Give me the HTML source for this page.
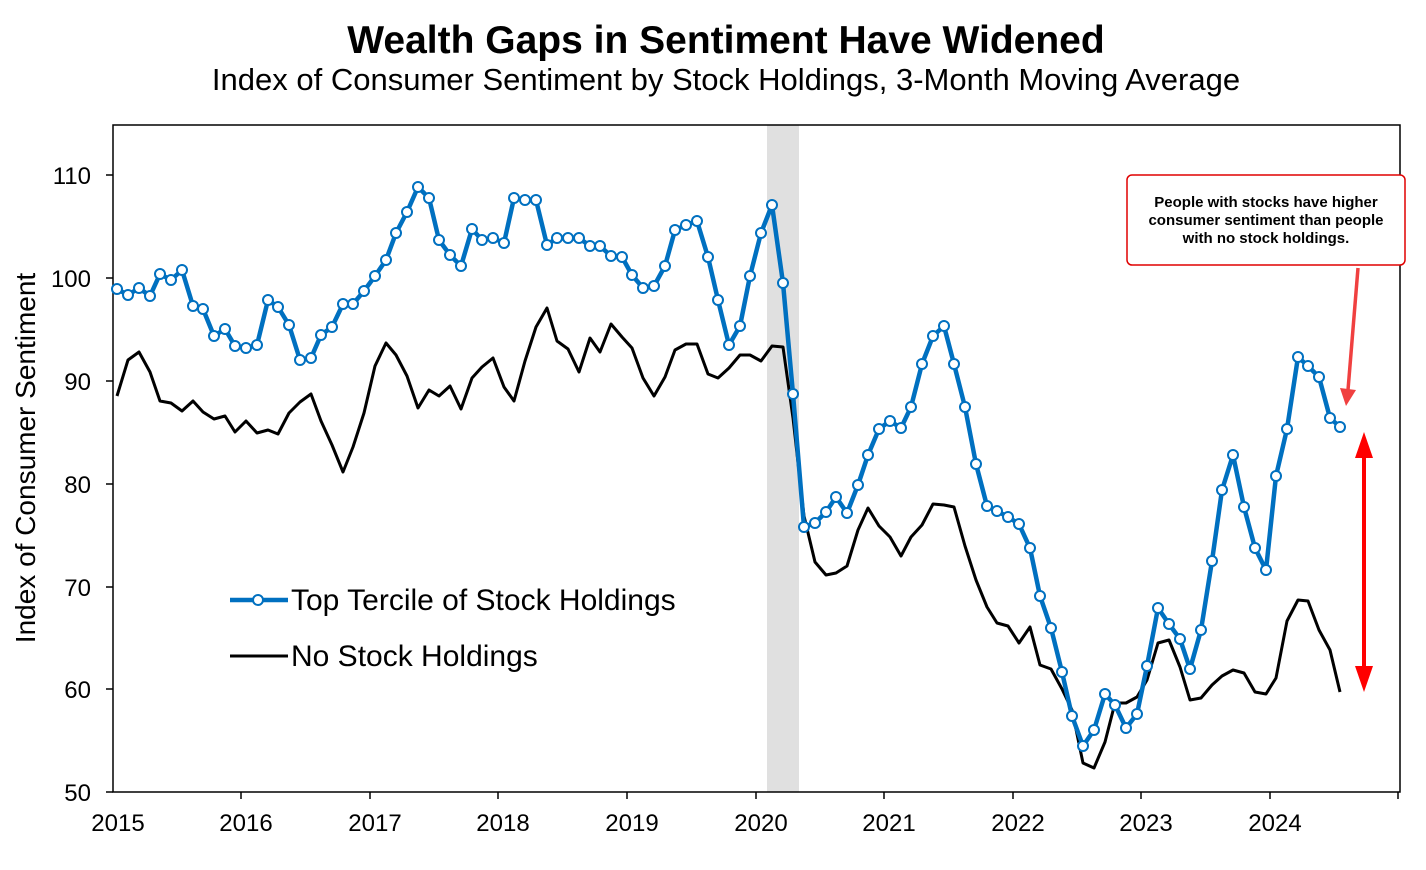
<!DOCTYPE html>
<html><head><meta charset="utf-8"><style>
html,body{margin:0;padding:0;background:#fff;}
svg{display:block;font-family:"Liberation Sans",Arial,sans-serif;}
</style></head><body>
<svg width="1426" height="870" viewBox="0 0 1426 870" xmlns="http://www.w3.org/2000/svg">
<text x="726" y="53" text-anchor="middle" font-size="39" font-weight="bold">Wealth Gaps in Sentiment Have Widened</text>
<text x="726" y="90" text-anchor="middle" font-size="31">Index of Consumer Sentiment by Stock Holdings, 3-Month Moving Average</text>
<rect x="767" y="125" width="32" height="667" fill="#e0e0e0"/>
<rect x="113" y="125" width="1287" height="667" fill="none" stroke="#000" stroke-width="1.5"/>
<g stroke="#000" stroke-width="1.5">
<line x1="106" y1="175" x2="113" y2="175"/><line x1="106" y1="278" x2="113" y2="278"/><line x1="106" y1="381" x2="113" y2="381"/><line x1="106" y1="484" x2="113" y2="484"/><line x1="106" y1="587" x2="113" y2="587"/><line x1="106" y1="689" x2="113" y2="689"/><line x1="106" y1="792" x2="113" y2="792"/>
<line x1="241" y1="792" x2="241" y2="799"/><line x1="370" y1="792" x2="370" y2="799"/><line x1="498" y1="792" x2="498" y2="799"/><line x1="627" y1="792" x2="627" y2="799"/><line x1="756" y1="792" x2="756" y2="799"/><line x1="884" y1="792" x2="884" y2="799"/><line x1="1013" y1="792" x2="1013" y2="799"/><line x1="1141" y1="792" x2="1141" y2="799"/><line x1="1270" y1="792" x2="1270" y2="799"/><line x1="1398" y1="792" x2="1398" y2="799"/>
</g>
<g font-size="24" text-anchor="end">
<text x="91" y="184">110</text><text x="91" y="287">100</text><text x="91" y="390">90</text><text x="91" y="493">80</text><text x="91" y="596">70</text><text x="91" y="698">60</text><text x="91" y="801">50</text>
</g>
<g font-size="24" text-anchor="middle">
<text x="118" y="831">2015</text><text x="246" y="831">2016</text><text x="375" y="831">2017</text><text x="503" y="831">2018</text><text x="632" y="831">2019</text><text x="761" y="831">2020</text><text x="889" y="831">2021</text><text x="1018" y="831">2022</text><text x="1146" y="831">2023</text><text x="1275" y="831">2024</text>
</g>
<text transform="translate(35,458) rotate(-90)" text-anchor="middle" font-size="28">Index of Consumer Sentiment</text>
<polyline fill="none" stroke="#000" stroke-width="3" stroke-linejoin="round" points="117,396 128,360 139,352 150,372 160,401 171,403 182,411 193,401 203,412 214,419 225,416 235,432 246,421 257,433 268,430 278,434 289,413 300,402 311,394 321,421 332,445 343,472 353,447 364,413 375,366 386,343 396,355 407,376 418,408 429,390 439,396 450,386 461,409 472,378 482,367 493,358 504,387 514,401 525,361 536,327 547,308 557,341 568,349 579,372 590,338 600,352 611,324 622,337 632,348 643,378 654,396 665,377 675,350 686,344 697,344 708,374 718,378 729,368 740,355 750,355 761,361 772,346 783,347 793,418 804,516 815,562 826,575 836,573 847,566 858,530 868,508 879,526 890,537 901,556 911,537 922,525 933,504 944,505 954,507 965,546 976,580 987,607 997,623 1008,626 1019,643 1030,627 1040,665 1051,669 1062,689 1072,710 1083,763 1094,768 1105,742 1115,703 1126,703 1137,697 1147,680 1158,643 1169,640 1180,667 1190,700 1201,698 1212,685 1222,676 1233,670 1244,673 1255,692 1266,694 1276,678 1287,621 1298,600 1308,601 1319,630 1330,650 1340,692"/>
<polyline id="bl" fill="none" stroke="#0070c0" stroke-width="4.5" stroke-linejoin="round" points="117,289 128,295 139,288 150,296 160,274 171,280 182,270 193,306 203,309 214,336 225,329 235,346 246,348 257,345 268,300 278,307 289,325 300,360 311,358 321,335 332,327 343,304 353,304 364,291 375,276 386,260 396,233 407,212 418,187 429,198 439,240 450,255 461,266 472,229 482,240 493,238 504,243 514,198 525,200 536,200 547,245 557,238 568,238 579,238 590,246 600,246 611,256 622,257 632,275 643,288 654,286 665,266 675,230 686,225 697,221 708,257 718,300 729,345 740,326 750,276 761,233 772,205 783,283 793,394 804,527 815,523 826,512 836,497 847,513 858,485 868,455 879,429 890,421 901,428 911,407 922,364 933,336 944,326 954,364 965,407 976,464 987,506 997,511 1008,517 1019,524 1030,548 1040,596 1051,628 1062,672 1072,716 1083,746 1094,730 1105,694 1115,705 1126,728 1137,714 1147,666 1158,608 1169,624 1180,639 1190,669 1201,630 1212,561 1222,490 1233,455 1244,507 1255,548 1266,570 1276,476 1287,429 1298,357 1308,366 1319,377 1330,418 1340,427"/>
<g id="mk" fill="#fff" stroke="#0070c0" stroke-width="2"></g>
<line x1="230" y1="600" x2="288" y2="600" stroke="#0070c0" stroke-width="4.5"/>
<circle cx="258" cy="600" r="5" fill="#fff" stroke="#0070c0" stroke-width="2"/>
<text x="291" y="610" font-size="30">Top Tercile of Stock Holdings</text>
<line x1="230" y1="656" x2="288" y2="656" stroke="#000" stroke-width="3"/>
<text x="291" y="666" font-size="30">No Stock Holdings</text>
<rect x="1127" y="175" width="278" height="90" rx="5" fill="#fff" stroke="#e00000" stroke-width="1.5"/>
<g font-size="15" font-weight="bold" text-anchor="middle">
<text x="1266" y="207">People with stocks have higher</text>
<text x="1266" y="225">consumer sentiment than people</text>
<text x="1266" y="243">with no stock holdings.</text>
</g>
<line x1="1358" y1="268" x2="1348" y2="390" stroke="#f04040" stroke-width="3.5"/>
<polygon points="1340,388 1356,390 1346,406" fill="#f04040"/>
<line x1="1364" y1="452" x2="1364" y2="672" stroke="#ff0000" stroke-width="4"/>
<polygon points="1355,458 1373,458 1364,432" fill="#ff0000"/>
<polygon points="1355,666 1373,666 1364,692" fill="#ff0000"/>
<script>
(function(){var p=document.getElementById('bl').getAttribute('points').trim().split(/\s+/);var g=document.getElementById('mk');var ns='http://www.w3.org/2000/svg';p.forEach(function(s){var a=s.split(',');var c=document.createElementNS(ns,'circle');c.setAttribute('cx',a[0]);c.setAttribute('cy',a[1]);c.setAttribute('r','5');g.appendChild(c);});})();
</script>
</svg>
</body></html>
